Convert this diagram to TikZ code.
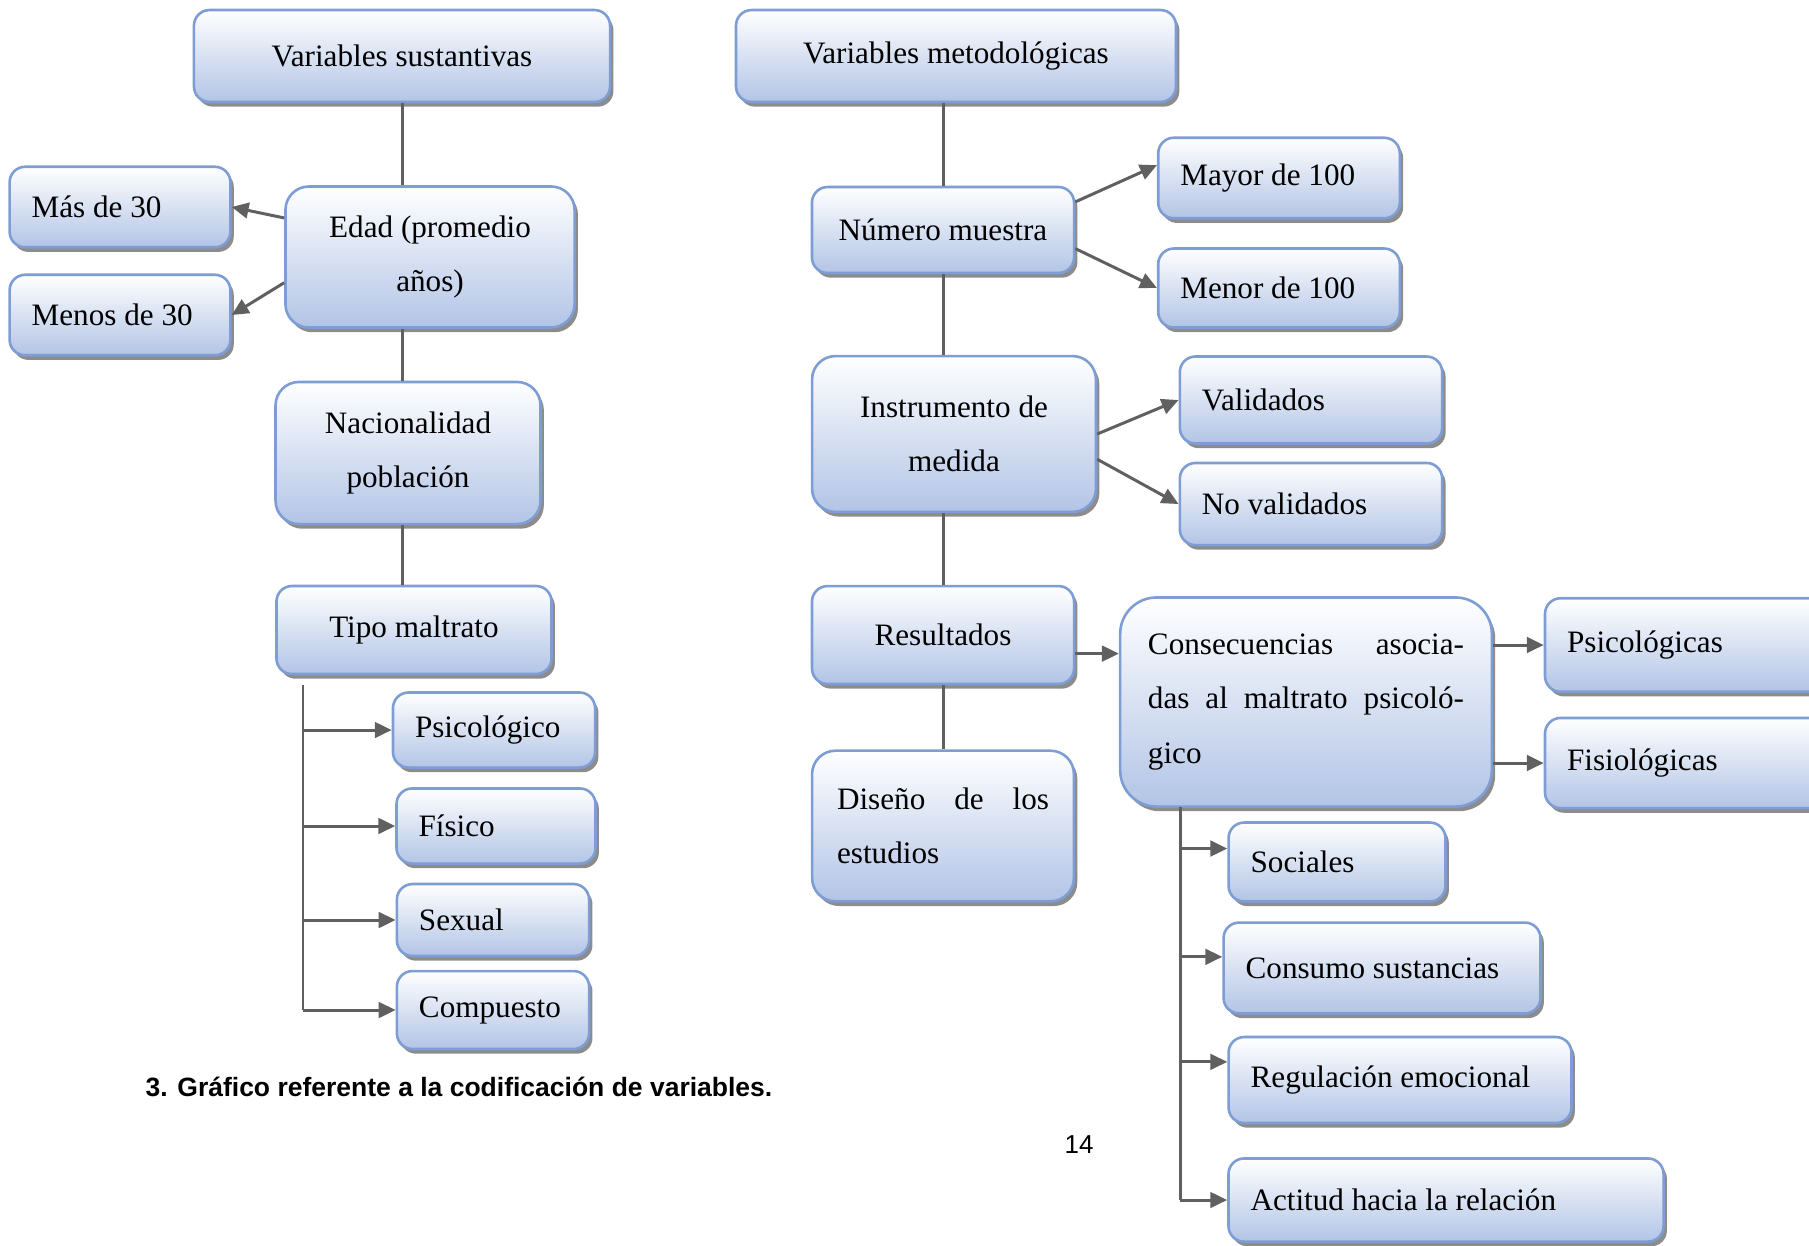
\documentclass[tikz,border=0pt]{standalone}
\usepackage{fontspec}
\setmainfont{Liberation Serif}
\newfontfamily\capfont{Liberation Sans}
\usetikzlibrary{arrows.meta, shadows}

\definecolor{boxline}{RGB}{126,157,212}
\definecolor{boxfill}{RGB}{178,196,230}
\definecolor{linkgray}{RGB}{96,96,96}

\begin{document}
\begin{tikzpicture}[x=0.385pt, y=-0.385pt,
    box/.style={draw=boxline, line width=1pt, rounded corners=6pt,
        top color=white, bottom color=boxfill,
        drop shadow={shadow xshift=1.3pt, shadow yshift=-1.8pt, fill=black!45, opacity=1},
        font=\fontsize{12}{21}\selectfont, inner xsep=8.5pt, inner ysep=2pt, align=center},
    lbox/.style={box, align=justify},
    link/.style={draw=linkgray, line width=1.15pt},
    arr/.style={link, -{Triangle[length=6.5pt, width=6pt]}}]
    \useasboundingbox (0,0) rectangle (1809,1245);

    % sustantivas
    \node[box, minimum width=160.2pt, minimum height=35.4pt] (vs) at (402,56) {Variables sustantivas};
    \node[box, minimum width=111.3pt, minimum height=54.3pt, rounded corners=9pt] (edad) at (430,257) {Edad (promedio\\años)};
    \node[lbox, text width=68pt, minimum height=31pt] (mas) at (120,207) {Más de 30};
    \node[lbox, text width=68pt, minimum height=31pt] (menos) at (120,315) {Menos de 30};
    \node[box, minimum width=102pt, minimum height=54.7pt, rounded corners=9pt] (nac) at (408,453) {Nacionalidad\\población};
    \node[box, minimum width=105.9pt, minimum height=33.9pt] (tipo) at (414,630) {Tipo maltrato};
    \node[lbox, text width=60.8pt, minimum height=28.9pt] (psico) at (494,730) {Psicológico};
    \node[lbox, text width=59.6pt, minimum height=28.9pt] (fis) at (496,826) {Físico};
    \node[lbox, text width=57pt, minimum height=27.7pt] (sex) at (493,920) {Sexual};
    \node[lbox, text width=57pt, minimum height=30pt] (comp) at (493,1010) {Compuesto};

    % metodologicas
    \node[box, minimum width=169.4pt, minimum height=35.4pt] (vm) at (956,56) {Variables metodológicas};
    \node[box, minimum width=100.9pt, minimum height=33.1pt] (num) at (943,230) {Número muestra};
    \node[lbox, text width=76pt, minimum height=31pt] (mayor) at (1279,178) {Mayor de 100};
    \node[lbox, text width=76pt, minimum height=30.4pt] (menor) at (1279,288) {Menor de 100};
    \node[box, minimum width=109.3pt, minimum height=60pt, rounded corners=9pt] (inst) at (954,434) {Instrumento de\\medida};
    \node[lbox, text width=84pt, minimum height=33.5pt] (val) at (1311,400) {Validados};
    \node[lbox, text width=84pt, minimum height=31.6pt] (noval) at (1311,504) {No validados};
    \node[box, minimum width=100.9pt, minimum height=37.7pt] (res) at (943,635) {Resultados};
    \node[box, text width=81.6pt, inner xsep=9.6pt, minimum height=58pt, align=justify, rounded corners=9pt] (dis) at (943,826)
        {Diseño de los\linebreak estudios};
    \node[box, text width=121.7pt, inner xsep=10.7pt, minimum height=80.5pt, align=justify, rounded corners=14pt] (cons) at (1306,702)
        {Consecuencias asocia-\linebreak das al maltrato psicoló-\linebreak gico};
    \node[lbox, text width=98.5pt, minimum height=36pt] (psicas) at (1695,645) {Psicológicas};
    \node[lbox, text width=98.5pt, minimum height=34.7pt] (fisas) at (1695,763) {Fisiológicas};
    \node[lbox, text width=66.5pt, minimum height=30.4pt] (soc) at (1337,862) {Sociales};
    \node[lbox, text width=105pt, minimum height=35pt] (consumo) at (1382,968) {Consumo sustancias};
    \node[lbox, text width=115pt, minimum height=33.1pt] (reg) at (1400,1080) {Regulación emocional};
    \node[lbox, text width=150.5pt, minimum height=32pt] (act) at (1446,1200) {Actitud hacia la relación};

    \node[font=\capfont\bfseries\fontsize{10.2}{12}\selectfont, anchor=west, inner sep=0pt] (cap) at (145,1087)
        {3. Gráfico referente a la codificación de variables.};
    \node[font=\capfont\fontsize{10}{12}\selectfont, inner sep=0pt] (page) at (1079,1145) {14};

    % left connectors
    \draw[link] (vs.south) -- (vs.south |- edad.north);
    \draw[link] (vs.south |- edad.south) -- (vs.south |- nac.north);
    \draw[link] (vs.south |- nac.south) -- (vs.south |- tipo.north);
    \draw[arr] (edad.165) -- (mas.east);
    \draw[arr] (edad.190) -- (menos.east);
    \coordinate (ltrunk) at (303,685);
    \draw[link] (ltrunk) -- (ltrunk |- comp.west);
    \foreach \n in {psico, fis, sex, comp}
        \draw[arr] (ltrunk |- \n.west) -- (\n.west);

    % right connectors
    \draw[link] (num.north |- vm.south) -- (num.north);
    \draw[link] (num.south) -- (num.south |- inst.north);
    \draw[link] (num.south |- inst.south) -- (num.south |- res.north);
    \draw[link] (res.south) -- (res.south |- dis.north);
    \draw[arr] (num.12) -- (mayor.174);
    \draw[arr] (num.-8) -- (menor.west);
    \draw[arr] (inst.east) -- (val.west);
    \draw[arr] (inst.-10) -- (noval.west);
    \draw[arr] (res.-8) -- (res.-8 -| cons.west);
    \draw[arr] (psicas.west -| cons.east) -- (psicas.west);
    \draw[arr] (fisas.west -| cons.east) -- (fisas.west);
    \coordinate (rtrunk) at (1180,807);
    \draw[link] (rtrunk) -- (rtrunk |- act.west);
    \foreach \n/\a in {soc/173, consumo/176, reg/174, act/180}
        \draw[arr] (rtrunk |- \n.\a) -- (\n.\a);
\end{tikzpicture}
\end{document}
